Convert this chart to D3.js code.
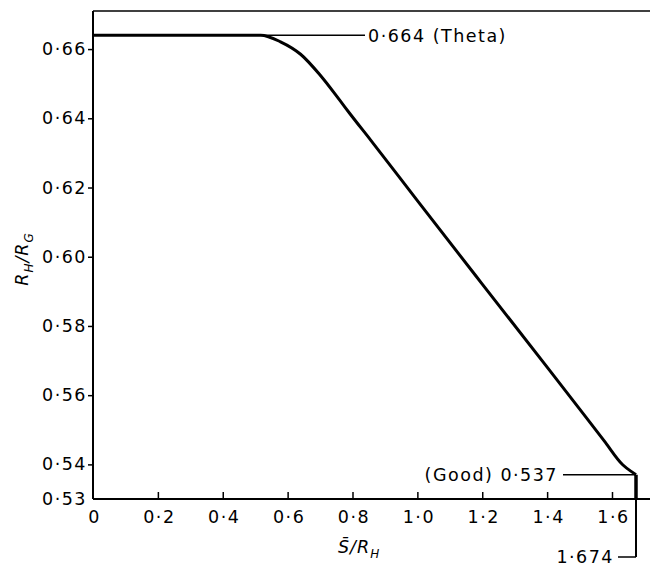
<!DOCTYPE html>
<html>
<head>
<meta charset="utf-8">
<script src="https://cdn.jsdelivr.net/npm/d3@7"></script>
<style>
  html, body { margin: 0; padding: 0; background: #fff; }
  svg text { font-family: "DejaVu Sans", sans-serif; fill: #000; }
</style>
</head>
<body>
<svg id="chart" width="650" height="568"></svg>
<script>
// ---- data ----
const curveX = [0, 0.2, 0.4, 0.517, 0.578, 0.640, 0.700, 0.760, 0.794, 0.856, 1.0, 1.2, 1.4, 1.576, 1.633, 1.660, 1.674];
const curveY = [0.664, 0.664, 0.664, 0.664, 0.6621, 0.6585, 0.6525, 0.6453, 0.6411, 0.6337, 0.6162, 0.5921, 0.5681, 0.5468, 0.5399, 0.5379, 0.537];
const dropX = [1.674, 1.674];
const dropY = [0.537, 0.53];
const yTicks = [0.53, 0.54, 0.56, 0.58, 0.60, 0.62, 0.64, 0.66];
const yTickLabels = ["0·53", "0·54", "0·56", "0·58", "0·60", "0·62", "0·64", "0·66"];
const xTicks = [0, 0.2, 0.4, 0.6, 0.8, 1.0, 1.2, 1.4, 1.6];
const xTickLabels = ["0", "0·2", "0·4", "0·6", "0·8", "1·0", "1·2", "1·4", "1·6"];
const thetaValue = 0.664, thetaLabel = "0·664 (Theta)";
const goodValue = 0.537, goodLabel = "(Good) 0·537";
const endX = 1.674, endLabel = "1·674";
const xDomain = [0, 1.674], yDomain = [0.53, 0.671];

// ---- drawing ----
const W = 650, H = 568;
const svg = d3.select("#chart");
const x = d3.scaleLinear().domain(xDomain).range([93, 636]);
const y = d3.scaleLinear().domain(yDomain).range([499, 11]);

const g = svg.append("g");

// frame: left axis, bottom axis, top line
g.append("line").attr("x1", x(0)).attr("x2", x(0)).attr("y1", y(yDomain[1])).attr("y2", y(yDomain[0]))
  .attr("stroke", "#000").attr("stroke-width", 2);
g.append("line").attr("x1", x(0)).attr("x2", W).attr("y1", y(yDomain[0])).attr("y2", y(yDomain[0]))
  .attr("stroke", "#000").attr("stroke-width", 2);
g.append("line").attr("x1", x(0)).attr("x2", W).attr("y1", y(yDomain[1])).attr("y2", y(yDomain[1]))
  .attr("stroke", "#000").attr("stroke-width", 1.5);

// y axis ticks (outward)
const yAxis = d3.axisLeft(y).tickValues(yTicks).tickSize(5).tickPadding(3)
  .tickFormat((d, i) => yTickLabels[i]);
const ya = g.append("g").attr("transform", `translate(${x(0)},0)`).call(yAxis);
ya.select(".domain").remove();
ya.selectAll(".tick line").attr("stroke", "#000").attr("stroke-width", 1.5);
ya.selectAll(".tick text").attr("font-size", 17.5).attr("letter-spacing", 1.5)
  .attr("font-family", "DejaVu Sans").attr("fill", "#000").attr("dx", 2);
ya.selectAll(".tick").filter(d => d === 0.53).select("line").remove();

// x axis ticks (inward)
const xAxis = d3.axisBottom(x).tickValues(xTicks).tickSizeInner(-7).tickSizeOuter(0).tickPadding(12)
  .tickFormat((d, i) => xTickLabels[i]);
const xa = g.append("g").attr("transform", `translate(0,${y(yDomain[0])})`).call(xAxis);
xa.select(".domain").remove();
xa.selectAll(".tick line").attr("stroke", "#000").attr("stroke-width", 1.5);
xa.selectAll(".tick").filter(d => d === 0).select("line").remove();
xa.selectAll(".tick text").attr("font-size", 17.5).attr("letter-spacing", 1.5)
  .attr("font-family", "DejaVu Sans").attr("fill", "#000").attr("dx", 1);

// theta reference line and label
g.append("line").attr("x1", x(0)).attr("x2", 365).attr("y1", y(thetaValue)).attr("y2", y(thetaValue))
  .attr("stroke", "#000").attr("stroke-width", 1.5);
g.append("text").attr("x", 368).attr("y", y(thetaValue) + 6.5).attr("font-size", 17.5)
  .attr("letter-spacing", 1.5).text(thetaLabel);

// good reference line and label
g.append("line").attr("x1", 563).attr("x2", x(endX)).attr("y1", y(goodValue)).attr("y2", y(goodValue))
  .attr("stroke", "#000").attr("stroke-width", 1.5);
g.append("text").attr("x", 558).attr("y", y(goodValue) + 6.5).attr("font-size", 17.5)
  .attr("text-anchor", "end").attr("letter-spacing", 1.5).text(goodLabel);

// end marker 1.674
g.append("line").attr("x1", x(endX)).attr("x2", x(endX)).attr("y1", y(yDomain[0])).attr("y2", 557)
  .attr("stroke", "#000").attr("stroke-width", 2);
g.append("line").attr("x1", 618).attr("x2", x(endX)).attr("y1", 557).attr("y2", 557)
  .attr("stroke", "#000").attr("stroke-width", 1.5);
g.append("text").attr("x", 614).attr("y", 563).attr("font-size", 17.5)
  .attr("text-anchor", "end").attr("letter-spacing", 1.5).text(endLabel);

// main curve
const pts = curveX.map((d, i) => [d, curveY[i]]);
const line = d3.line().x(d => x(d[0])).y(d => y(d[1])).curve(d3.curveMonotoneX);
g.append("path").datum(pts).attr("d", line).attr("fill", "none")
  .attr("stroke", "#000").attr("stroke-width", 3).attr("stroke-linejoin", "round");
const drop = dropX.map((d, i) => [d, dropY[i]]);
g.append("path").datum(drop).attr("d", d3.line().x(d => x(d[0])).y(d => y(d[1])))
  .attr("fill", "none").attr("stroke", "#000").attr("stroke-width", 3.5);

// axis titles
const xt = g.append("text").attr("x", 338).attr("y", 553).attr("font-size", 17.5)
  .attr("font-style", "italic").attr("letter-spacing", 1);
xt.append("tspan").text("S\u0304/R");
xt.append("tspan").attr("font-size", 12).attr("dy", 5).text("H");

const yt = g.append("text").attr("transform", "translate(28,259) rotate(-90)")
  .attr("text-anchor", "middle").attr("font-size", 17.5).attr("font-style", "italic").attr("letter-spacing", 1);
yt.append("tspan").text("R");
yt.append("tspan").attr("font-size", 12).attr("dy", 5).text("H");
yt.append("tspan").attr("dy", -5).text("/R");
yt.append("tspan").attr("font-size", 12).attr("dy", 5).text("G");
</script>
</body>
</html>
